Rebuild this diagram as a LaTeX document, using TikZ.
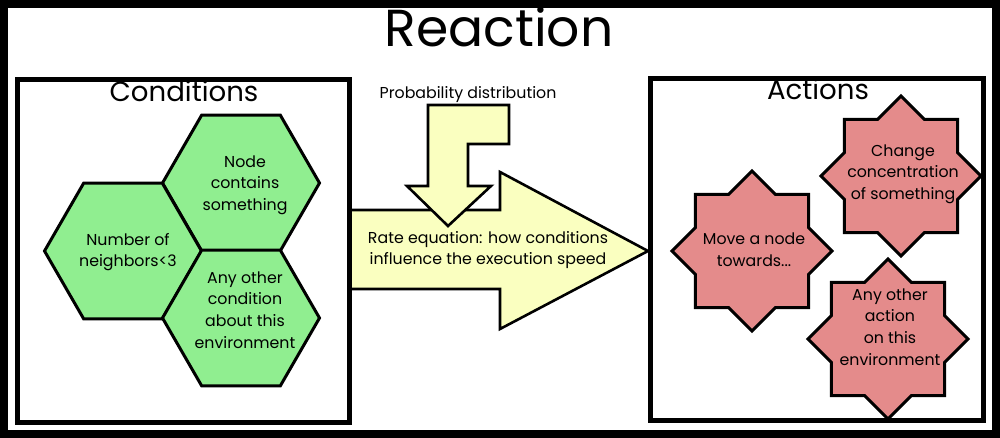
\documentclass[tikz,border=0pt]{standalone}
\usepackage{fontspec}
\setmainfont{Poppins}
\usetikzlibrary{shapes.geometric}

\definecolor{hexgreen}{RGB}{144,238,144}
\definecolor{starred}{RGB}{228,139,139}
\definecolor{arrowyellow}{RGB}{250,255,192}

\begin{document}
\begin{tikzpicture}[x=0.5pt, y=-0.5pt,
    small/.style={font=\fontsize{7.9}{10.8}\selectfont, align=center, inner sep=0pt},
    boxtitle/.style={font=\fontsize{13.8}{16}\selectfont, anchor=base, inner sep=0pt},
    hexa/.style={regular polygon, regular polygon sides=6, minimum size=78.5pt, inner sep=0pt,
                 draw, line width=1.5pt, fill=hexgreen},
    octo/.style={star, star points=8, star point ratio=1.3066, minimum size=80pt, inner sep=0pt,
                 draw, line width=1.5pt, fill=starred},
    bigarrow/.style={draw, line width=1.3pt, fill=arrowyellow, line join=miter}]
                % outer frame
                \draw[line width=4pt] (4,4) rectangle (996,434);
                \node[font=\fontsize{26}{28}\selectfont, anchor=base, inner sep=0pt] (title) at (499,47) {Reaction};
                % rate arrow and probability arrow
                \draw[bigarrow] (350,210) -- (500,210) -- (500,172) -- (648,251) -- (500,329) -- (500,289) -- (350,289) -- cycle;
                \node[small] (rate) at (488,250) {Rate equation: how conditions\\influence the execution speed};
                \draw[bigarrow] (428,105) -- (509,105) -- (509,144) -- (468,144) -- (468,186) -- (491,186) -- (448,226) -- (407,186) -- (428,186) -- cycle;
                \node[small] (prob) at (468,95) {Probability distribution};
                % conditions
                \draw[line width=2.5pt] (17.5,79.5) rectangle (349.5,422.5);
                \node[boxtitle] (cond) at (184,102) {Conditions};
                \node[hexa] (hcont) at (241,183) {};
                \node[small] (tcont) at (245,185) {Node\\contains\\something};
                \node[hexa] (hneigh) at (123,251) {};
                \node[small] (tneigh) at (128,252) {Number of\\neighbors<3};
                \node[hexa] (hother) at (241,318) {};
                \node[small] (tother) at (245,310) {Any other\\condition\\about this\\environment};
                % actions
                \draw[line width=2.5pt] (650.5,78.5) rectangle (983.5,420.5);
                \node[boxtitle] (act) at (818,100) {Actions};
                \node[octo] (schange) at (901,176) {};
                \node[small] (tchange) at (903,174) {Change\\concentration\\of something};
                \node[octo] (smove) at (752,251) {};
                \node[small] (tmove) at (754,250) {Move a node\\towards...};
                \node[octo] (sactother) at (888,339) {};
                \node[small] (tactother) at (890,327) {Any other\\action\\on this\\environment};
            \end{tikzpicture}
\end{document}
